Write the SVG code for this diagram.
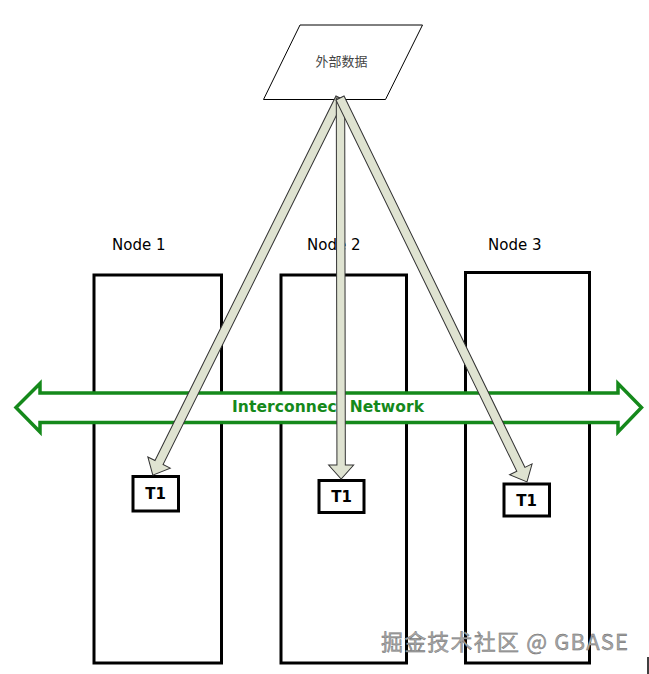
<svg xmlns="http://www.w3.org/2000/svg" width="649" height="674" viewBox="0 0 649 674">
<defs>
<style>
.node{fill:#fff;stroke:#000;stroke-width:3}
.lbl{font-family:"DejaVu Sans",Verdana,sans-serif;font-size:15px;fill:#000}
.t1box{fill:#fff;stroke:#000;stroke-width:3}
.t1{font-family:"DejaVu Sans",Verdana,sans-serif;font-size:15px;font-weight:bold;fill:#000;text-anchor:middle}
.flow{fill:#dfe3d1;stroke:#333;stroke-width:1;stroke-linejoin:miter}
.net{fill:#fff;stroke:#15891b;stroke-width:3.5;stroke-linejoin:miter}
.nettxt{font-family:"DejaVu Sans",Verdana,sans-serif;font-size:15.5px;font-weight:bold;fill:#15891b}
</style>
</defs>
<rect width="649" height="674" fill="#fff"/>

<g id="ext">
<polygon points="300,25 422.5,25 385.5,99.5 263.5,99.5" fill="#fff" stroke="#000" stroke-width="1"/>
<text x="341.5" y="65.5" text-anchor="middle" font-family="'Noto Sans CJK SC',sans-serif" font-size="13" fill="#444">外部数据</text>
</g>

<g id="node1">
<rect class="node" x="94" y="275" width="127.5" height="388"/>
<text class="lbl" x="112" y="250">Node 1</text>
</g>
<g id="node2">
<rect class="node" x="281" y="275" width="125.5" height="388"/>
<text class="lbl" x="307" y="250">Node 2</text>
</g>
<g id="node3">
<rect class="node" x="465.5" y="272.5" width="124" height="390.5"/>
<text class="lbl" x="488" y="250">Node 3</text>
</g>

<g id="t1-1">
<rect class="t1box" x="133" y="476.5" width="45.5" height="34.5"/>
<text class="t1" x="155.7" y="499">T1</text>
</g>
<g id="t1-2">
<rect class="t1box" x="319" y="480.5" width="45" height="32"/>
<text class="t1" x="341.5" y="502">T1</text>
</g>
<g id="t1-3">
<rect class="t1box" x="504" y="484" width="45.5" height="32"/>
<text class="t1" x="526.7" y="505.5">T1</text>
</g>

<g id="network">
<polygon class="net" points="16,407.5 40,383.5 40,393 618,393 618,383.5 641.5,407.5 618,432 618,422.5 40,422.5 40,432"/>
<text class="nettxt" x="232" y="412" textLength="192">Interconnect Network</text>
</g>

<g id="connectors">
<path class="flow" transform="translate(340,98) rotate(116.4)" d="M0,-4.5 L407,-4.5 L407,-12.5 L421,0 L407,12.5 L407,4.5 L0,4.5 Z"/>
<path class="flow" transform="translate(340.5,98) rotate(89.9)" d="M0,-4.2 L367,-4.2 L367,-12.5 L381,0 L367,12.5 L367,4.2 L0,4.2 Z"/>
<path class="flow" transform="translate(340,98) rotate(64.03)" d="M0,-4.5 L413,-4.5 L413,-12.5 L427,0 L413,12.5 L413,4.5 L0,4.5 Z"/>
</g>

<g id="watermark">
<text x="381" y="650" font-family="'Noto Sans CJK SC','Noto Sans',sans-serif" font-size="22" fill="#a8a8a8" stroke="#666" stroke-width="0.4" textLength="247">掘金技术社区 @ GBASE</text>
</g>
<line x1="648" y1="657" x2="648" y2="674" stroke="#000" stroke-width="1.5"/>
</svg>
